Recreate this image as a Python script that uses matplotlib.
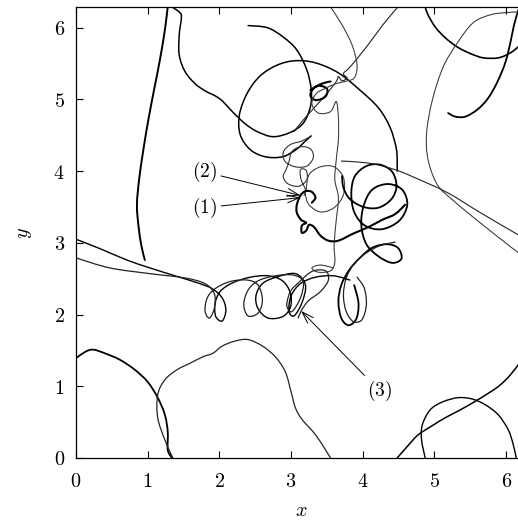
import numpy as np
import matplotlib
matplotlib.use("Agg")
import matplotlib.pyplot as plt
from matplotlib.path import Path
from matplotlib.patches import PathPatch

plt.rcParams["mathtext.fontset"] = "cm"
plt.rcParams["font.family"] = "serif"

TWO_PI = 2 * np.pi

# ---- trajectories (x, y) on the periodic box [0, 2pi]^2 ----
traj_a_x = [1.28, 1.24, 1.17, 1.09, 1.01, 0.94, 0.88, 0.85, 0.87, 0.91, 0.96]
traj_a_y = [6.30, 5.97, 5.55, 5.14, 4.72, 4.30, 3.88, 3.53, 3.25, 2.97, 2.76]

traj_b_x = [1.34, 1.45, 1.47, 1.44, 1.44, 1.52, 1.66, 1.80, 1.94, 2.04, 2.18, 2.36,
            2.53, 2.75, 2.99, 3.17, 3.27, 3.28, 3.22, 3.08, 2.89, 2.67, 2.40]
traj_b_y = [6.29, 6.21, 6.14, 5.90, 5.62, 5.39, 5.22, 5.12, 5.05, 4.98, 4.83, 4.66,
            4.55, 4.48, 4.54, 4.67, 4.90, 5.14, 5.41, 5.69, 5.87, 6.00, 6.03]

traj_c_x = [4.48, 4.47, 4.38, 4.22, 3.96, 3.66, 3.34, 3.06, 2.81, 2.57, 2.39, 2.28,
            2.29, 2.43, 2.64, 2.88, 3.07, 3.20, 3.28]
traj_c_y = [4.00, 4.30, 4.61, 4.88, 5.13, 5.37, 5.51, 5.54, 5.48, 5.33, 5.09, 4.79,
            4.51, 4.30, 4.20, 4.20, 4.30, 4.42, 4.49]

traj_d_x = [3.28, 3.15, 2.99, 2.89, 2.92, 3.06, 3.22, 3.31, 3.27, 3.13, 3.01, 2.97,
            2.93, 2.89, 2.96, 3.11, 3.22, 3.21, 3.13, 3.14, 3.20, 3.18]
traj_d_y = [4.49, 4.42, 4.37, 4.26, 4.13, 4.06, 4.07, 4.19, 4.31, 4.34, 4.27, 4.13,
            4.02, 3.92, 3.82, 3.79, 3.88, 4.01, 4.02, 3.88, 3.74, 3.66]

ring_x = [3.21, 3.25, 3.41, 3.60, 3.73, 3.73, 3.60, 3.41, 3.25, 3.20]
ring_y = [3.74, 3.95, 4.06, 4.06, 3.91, 3.67, 3.49, 3.43, 3.53, 3.67]

traj_e_x = [4.49, 4.28, 4.05, 3.82, 3.73, 3.78, 3.71, 3.66, 3.63, 3.48, 3.31, 3.15, 3.04]
traj_e_y = [6.29, 6.04, 5.73, 5.45, 5.36, 5.30, 5.26, 5.32, 5.25, 5.06, 4.87, 4.69, 4.55]

curl_x = [3.55, 3.43, 3.31, 3.27, 3.35, 3.48, 3.50, 3.38, 3.27]
curl_y = [5.25, 5.22, 5.15, 5.05, 4.99, 5.04, 5.15, 5.19, 5.13]

traj_f_x = [3.55, 3.71, 3.85, 3.92, 3.88, 3.75, 3.63, 3.49, 3.35, 3.29, 3.38, 3.55,
            3.63, 3.66, 3.66, 3.63, 3.61, 3.66, 3.63, 3.60, 3.61, 3.55, 3.38, 3.29,
            3.41, 3.59]
traj_f_y = [6.29, 6.04, 5.76, 5.48, 5.30, 5.25, 5.22, 5.16, 5.08, 4.94, 4.81, 4.83,
            4.97, 4.74, 4.44, 4.16, 3.88, 3.63, 3.32, 2.97, 2.73, 2.61, 2.59, 2.65,
            2.69, 2.65]

traj_g_x = [3.71, 3.73, 3.82, 4.01, 4.22, 4.40, 4.47, 4.41, 4.24, 4.05, 3.89, 3.84,
            3.88, 4.03, 4.27, 4.51, 4.62, 4.55, 4.35, 4.13, 4.01, 3.98, 4.05, 4.22,
            4.41, 4.54, 4.49, 4.33, 4.13, 3.96, 3.81, 3.70, 3.66, 3.70, 3.80, 3.91,
            3.94, 3.88]
traj_g_y = [3.93, 3.77, 3.61, 3.50, 3.49, 3.61, 3.79, 3.99, 4.09, 4.07, 3.93, 3.70,
            3.43, 3.24, 3.19, 3.31, 3.53, 3.74, 3.82, 3.74, 3.51, 3.24, 2.98, 2.81,
            2.72, 2.78, 2.93, 2.98, 2.93, 2.79, 2.62, 2.41, 2.18, 1.95, 1.85, 1.94,
            2.16, 2.41]

traj_g2_x = [4.45, 4.24, 4.05, 3.88, 3.77, 3.73, 3.77, 3.87, 3.99, 4.05, 4.02, 3.92]
traj_g2_y = [3.01, 2.96, 2.86, 2.71, 2.51, 2.27, 2.04, 1.90, 1.93, 2.14, 2.37, 2.52]

traj_h_x = [3.29, 3.34, 3.29, 3.20, 3.13, 3.08, 3.08, 3.14, 3.21, 3.15, 3.15, 3.21,
            3.25, 3.32, 3.41, 3.52, 3.66, 3.87, 4.08, 4.27, 4.45, 4.59]
traj_h_y = [3.56, 3.63, 3.71, 3.72, 3.66, 3.53, 3.42, 3.32, 3.28, 3.24, 3.14, 3.17,
            3.25, 3.22, 3.10, 3.03, 3.03, 3.13, 3.22, 3.32, 3.40, 3.53]

traj_i_x = [0.00, 0.33, 0.71, 1.03, 1.38, 1.70, 1.90, 2.04, 2.09, 2.04, 1.95, 1.94,
            2.01, 2.18, 2.43, 2.68, 2.88, 2.99, 2.99, 2.88, 2.68, 2.54, 2.51, 2.60,
            2.79, 3.06, 3.20, 3.15, 3.04, 2.97, 3.00, 3.13, 3.34, 3.59, 3.82]
traj_i_y = [3.05, 2.92, 2.76, 2.65, 2.54, 2.44, 2.36, 2.23, 2.06, 1.91, 1.97, 2.15,
            2.32, 2.44, 2.52, 2.54, 2.47, 2.30, 2.10, 1.97, 1.95, 2.08, 2.26, 2.43,
            2.52, 2.57, 2.41, 2.16, 1.98, 2.05, 2.26, 2.43, 2.52, 2.54, 2.48]

traj_i2_x = [0.00, 0.47, 1.03, 1.52, 1.80, 1.93, 1.93, 1.86, 1.80, 1.83, 1.94, 2.15,
             2.39, 2.54, 2.60, 2.54, 2.40, 2.34, 2.40, 2.54, 2.78, 3.03, 3.17, 3.13,
             3.01, 2.94, 2.99, 3.10, 3.29, 3.48, 3.52, 3.41, 3.24, 3.14, 3.10]
traj_i2_y = [2.79, 2.65, 2.57, 2.51, 2.43, 2.29, 2.09, 1.95, 2.05, 2.23, 2.36, 2.46,
             2.48, 2.41, 2.20, 2.02, 1.98, 2.14, 2.34, 2.47, 2.54, 2.55, 2.46, 2.23,
             2.04, 2.13, 2.32, 2.44, 2.60, 2.61, 2.48, 2.32, 2.19, 2.05, 1.95]

traj_j_x = [0.00, 0.13, 0.24, 0.40, 0.61, 0.82, 1.00, 1.14, 1.24, 1.28, 1.28, 1.34]
traj_j_y = [1.39, 1.48, 1.51, 1.46, 1.37, 1.23, 1.06, 0.84, 0.60, 0.36, 0.11, 0.00]

traj_k_x = [1.35, 1.24, 1.14, 1.14, 1.24, 1.41, 1.59, 1.77, 1.91, 2.04, 2.22, 2.40,
            2.60, 2.78, 2.92, 3.00, 3.06, 3.15, 3.35, 3.55]
traj_k_y = [0.00, 0.25, 0.56, 0.88, 1.09, 1.23, 1.32, 1.41, 1.46, 1.56, 1.63, 1.65,
            1.56, 1.41, 1.20, 0.92, 0.70, 0.54, 0.31, 0.00]

traj_l_x = [4.48, 4.63, 4.77, 4.97, 5.15, 5.36, 5.57, 5.78, 5.92, 6.06, 6.20, 6.34]
traj_l_y = [0.00, 0.17, 0.32, 0.45, 0.56, 0.67, 0.79, 0.92, 1.02, 1.16, 1.34, 1.51]

traj_m_x = [4.87, 4.82, 4.83, 4.94, 5.11, 5.33, 5.53, 5.71, 5.89, 6.03, 6.10, 6.14]
traj_m_y = [0.00, 0.25, 0.46, 0.67, 0.78, 0.84, 0.82, 0.74, 0.60, 0.39, 0.18, 0.00]

traj_s_x = [4.87, 4.91, 5.01, 5.15, 5.32, 5.50, 5.68, 5.89, 6.06, 6.20]
traj_s_y = [6.29, 6.18, 6.01, 5.86, 5.73, 5.64, 5.58, 5.58, 5.65, 5.76]

traj_r_x = [5.19, 5.29, 5.43, 5.60, 5.75, 5.88, 5.99, 6.06, 6.11, 6.17]
traj_r_y = [4.81, 4.76, 4.76, 4.86, 5.02, 5.25, 5.52, 5.80, 6.04, 6.25]

traj_p_x = [6.17, 5.99, 5.78, 5.54, 5.32, 5.12, 4.97, 4.89, 4.91, 5.04, 5.25, 5.50,
            5.85, 6.17]
traj_p_y = [6.22, 6.21, 6.18, 6.07, 5.79, 5.45, 4.99, 4.53, 4.16, 3.81, 3.60, 3.39,
            3.11, 2.86]

traj_q_x = [3.70, 3.89, 4.15, 4.45, 4.70, 5.18, 5.64, 6.17]
traj_q_y = [4.14, 4.13, 4.10, 4.02, 3.92, 3.70, 3.42, 3.11]

tick_values = [0, 1, 2, 3, 4, 5, 6]

# labelled points: (text, text position, arrow tip)
marker_labels = ["(1)", "(2)", "(3)"]
marker_text_x = [1.79, 1.79, 4.24]
marker_text_y = [3.49, 3.99, 0.93]
marker_tip_x = [3.13, 3.13, 3.14]
marker_tip_y = [3.63, 3.66, 2.05]


def smooth_path(xs, ys, closed=False):
    """Cubic Bezier path passing through the given samples (Catmull-Rom tangents)."""
    p = np.column_stack([xs, ys]).astype(float)
    if closed:
        p = np.vstack([p[-1:], p, p[:2]])
    else:
        p = np.vstack([p[:1], p, p[-1:]])
    verts = [p[1]]
    codes = [Path.MOVETO]
    for i in range(1, len(p) - 2):
        c1 = p[i] + (p[i + 1] - p[i - 1]) / 6.0
        c2 = p[i + 1] - (p[i + 2] - p[i]) / 6.0
        verts += [c1, c2, p[i + 1]]
        codes += [Path.CURVE4] * 3
    return Path(verts, codes)


def draw(ax, xs, ys, closed=False, **kw):
    patch = PathPatch(smooth_path(xs, ys, closed), fill=False,
                      capstyle="round", joinstyle="round", **kw)
    ax.add_patch(patch)


# ---- drawing ----
fig = plt.figure(figsize=(5.18, 5.22), dpi=100)
ax = fig.add_axes([0.1467, 0.1228, 0.8697, 0.8630])

dotted = dict(edgecolor="#444444", linestyle=(0, (1.2, 0.6)))

draw(ax, traj_a_x, traj_a_y, lw=1.4, edgecolor="black")
draw(ax, traj_b_x, traj_b_y, lw=1.1, edgecolor="black")
draw(ax, traj_c_x, traj_c_y, lw=1.1, edgecolor="black")
draw(ax, traj_d_x, traj_d_y, lw=0.8, edgecolor="#333333")
draw(ax, ring_x, ring_y, closed=True, lw=0.8, **dotted)
draw(ax, traj_e_x, traj_e_y, lw=0.8, edgecolor="#222222")
draw(ax, curl_x, curl_y, lw=1.5, edgecolor="black")
draw(ax, traj_f_x, traj_f_y, lw=0.8, **dotted)
draw(ax, traj_g_x, traj_g_y, lw=1.3, edgecolor="black")
draw(ax, traj_g2_x, traj_g2_y, lw=0.9, edgecolor="#222222")
draw(ax, traj_h_x, traj_h_y, lw=1.5, edgecolor="black")
draw(ax, traj_i_x, traj_i_y, lw=1.0, edgecolor="black")
draw(ax, traj_i2_x, traj_i2_y, lw=0.9, edgecolor="#222222")
draw(ax, traj_j_x, traj_j_y, lw=1.3, edgecolor="black")
draw(ax, traj_k_x, traj_k_y, lw=0.9, edgecolor="#222222")
draw(ax, traj_l_x, traj_l_y, lw=1.1, edgecolor="black")
draw(ax, traj_m_x, traj_m_y, lw=1.0, edgecolor="black")
draw(ax, traj_s_x, traj_s_y, lw=1.2, edgecolor="black")
draw(ax, traj_r_x, traj_r_y, lw=1.3, edgecolor="black")
draw(ax, traj_p_x, traj_p_y, lw=0.8, **dotted)
draw(ax, traj_q_x, traj_q_y, lw=0.8, edgecolor="#222222")

for lab, tx, ty, px, py in zip(marker_labels, marker_text_x, marker_text_y,
                               marker_tip_x, marker_tip_y):
    ax.annotate(f"${lab}$", xy=(px, py), xytext=(tx, ty), fontsize=14,
                ha="center", va="center",
                arrowprops=dict(arrowstyle="->,head_length=0.6,head_width=0.2",
                                lw=0.7, color="black", shrinkA=1, shrinkB=0))

ax.set_xlim(0, TWO_PI)
ax.set_ylim(0, TWO_PI)
ax.set_xticks(tick_values, labels=[f"${t}$" for t in tick_values])
ax.set_yticks(tick_values, labels=[f"${t}$" for t in tick_values])
ax.tick_params(direction="in", top=True, right=True, length=5, width=0.8,
               labelsize=14.5, pad=8)
ax.tick_params(axis="x", pad=10)
for sp in ax.spines.values():
    sp.set_linewidth(0.9)
ax.set_xlabel("$x$", fontsize=14.5, labelpad=7)
ax.set_ylabel("$y$", fontsize=14.5, labelpad=14)

fig.savefig("out.png", dpi=100)
